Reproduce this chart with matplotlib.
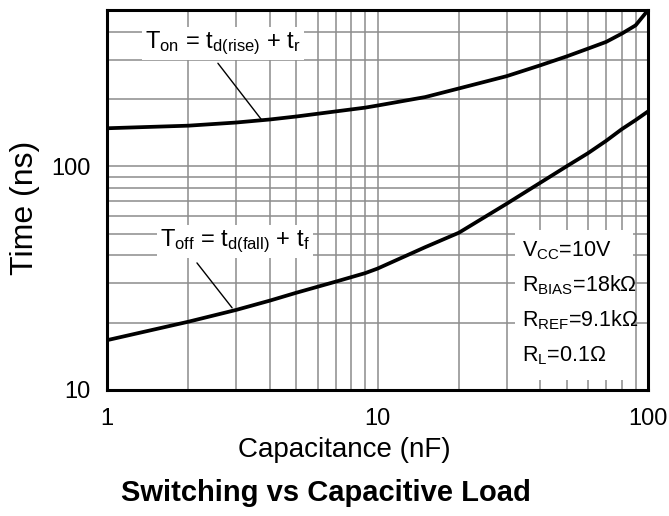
import matplotlib
matplotlib.use("Agg")
import matplotlib.pyplot as plt
from matplotlib.patches import Rectangle

plt.rcParams['font.family'] = ['Liberation Sans', 'DejaVu Sans']
plt.rcParams['mathtext.fontset'] = 'custom'
plt.rcParams['mathtext.rm'] = 'Liberation Sans'
plt.rcParams['mathtext.it'] = 'Liberation Sans:italic'
plt.rcParams['mathtext.bf'] = 'Liberation Sans:bold'

# Data
capacitance_nF = [1, 2, 3, 4, 5, 7, 9, 10, 15, 20, 30, 40, 50, 60, 70, 80, 90, 100]
t_on_ns = [148, 152, 157, 162, 167, 176, 183, 187, 204, 223, 253, 283, 310, 336, 360, 392, 427, 499]
t_off_ns = [16.7, 20.2, 22.8, 25.1, 27.2, 30.5, 33.3, 34.9, 43.5, 50.5, 68, 84.5, 100, 114.5, 130, 146.6, 161, 176]

x_ticks = [1, 10, 100]
x_tick_labels = ["1", "10", "100"]
y_ticks = [10, 100]
y_tick_labels = ["10", "100"]

label_on = r"T$_{\rm on}$ = t$_{\rm d(rise)}$ + t$_{\rm r}$"
label_off = r"T$_{\rm off}$ = t$_{\rm d(fall)}$ + t$_{\rm f}$"
conditions = [r"V$_{\rm CC}$=10V", r"R$_{\rm BIAS}$=18kΩ", r"R$_{\rm REF}$=9.1kΩ", r"R$_{\rm L}$=0.1Ω"]

fig = plt.figure(figsize=(6.69, 5.16), dpi=100)
ax = fig.add_axes([0.16, 0.2442, 0.8086, 0.7364])

ax.set_xscale('log')
ax.set_yscale('log')
ax.set_xlim(1, 100)
ax.set_ylim(10, 500)

ax.grid(True, which='both', color='#8c8c8c', linewidth=1.1)
ax.set_axisbelow(True)

ax.plot(capacitance_nF, t_on_ns, color='black', linewidth=2.7, solid_capstyle='butt',
        solid_joinstyle='round', zorder=3)
ax.plot(capacitance_nF, t_off_ns, color='black', linewidth=2.7, solid_capstyle='butt',
        solid_joinstyle='round', zorder=3)

ax.set_xticks(x_ticks)
ax.set_xticklabels(x_tick_labels)
ax.set_yticks(y_ticks)
ax.set_yticklabels(y_tick_labels)
ax.xaxis.set_minor_formatter(matplotlib.ticker.NullFormatter())
ax.yaxis.set_minor_formatter(matplotlib.ticker.NullFormatter())
ax.tick_params(which='both', length=0)
ax.tick_params(axis='x', labelsize=17, pad=13)
ax.tick_params(axis='y', labelsize=17, pad=12)

for sp in ax.spines.values():
    sp.set_linewidth(2.2)
    sp.set_zorder(5)

# curve labels with leader lines
ax.annotate('', xy=(3.74, 160.6), xytext=(2.57, 289),
            arrowprops=dict(arrowstyle='-', color='black', lw=1.0, shrinkA=0, shrinkB=0), zorder=4)
ax.text(1.38, 337, label_on, fontsize=17, ha='left', va='baseline', zorder=4,
        bbox=dict(facecolor='white', edgecolor='none', pad=2))
ax.annotate('', xy=(2.9, 23.3), xytext=(2.15, 37),
            arrowprops=dict(arrowstyle='-', color='black', lw=1.0, shrinkA=0, shrinkB=0), zorder=4)
ax.text(1.57, 43.8, label_off, fontsize=17, ha='left', va='baseline', zorder=4,
        bbox=dict(facecolor='white', edgecolor='none', pad=2))

# conditions box
ax.add_patch(Rectangle((0.754, 0.026), 0.218, 0.395, transform=ax.transAxes,
                       facecolor='white', edgecolor='none', zorder=2))
cond_y = [39.4, 27.5, 19.2, 13.4]
for txt, yv in zip(conditions, cond_y):
    ax.text(34.2, yv, txt, fontsize=15.5, ha='left', va='baseline', zorder=4)

fig.text(25 / 669, 1 - 208 / 516, "Time (ns)", rotation=90, fontsize=23, ha='center', va='center')
fig.text(344 / 669, 1 - 450 / 516, "Capacitance (nF)", fontsize=20, ha='center', va='center')
fig.text(326 / 669, 1 - 493 / 516, "Switching vs Capacitive Load", fontsize=21, fontweight='bold',
         ha='center', va='center')

fig.savefig("out.png", dpi=100)
